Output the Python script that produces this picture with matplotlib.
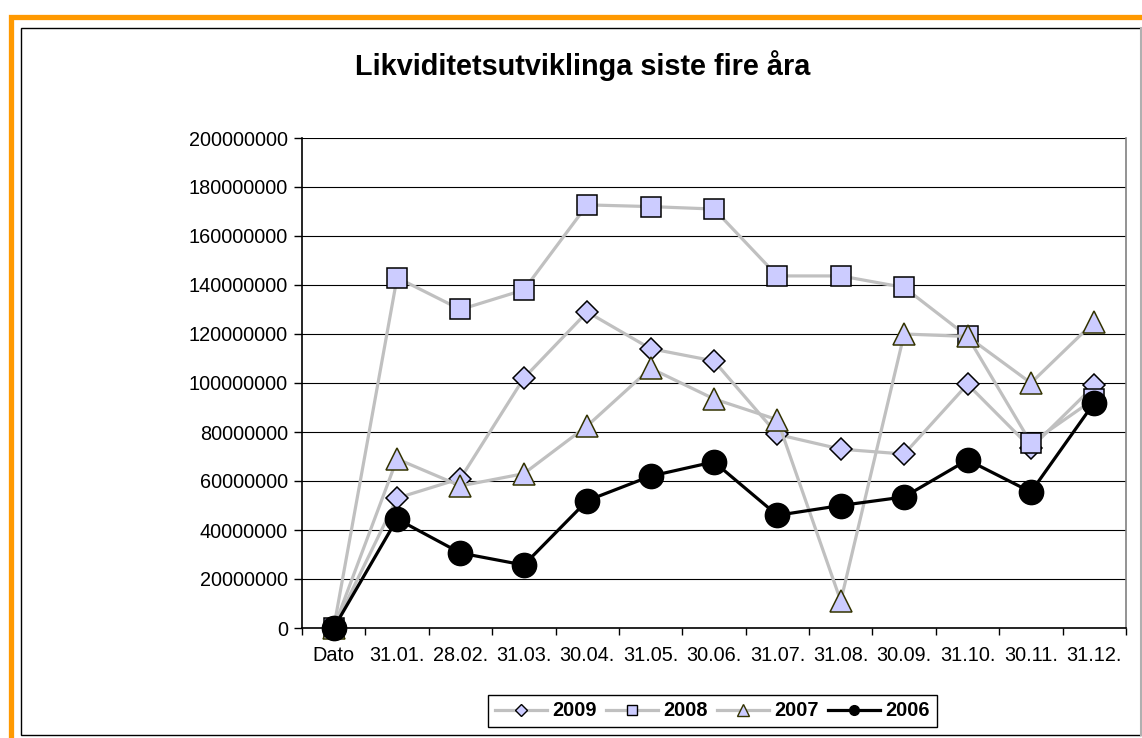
import matplotlib
matplotlib.use("Agg")
import matplotlib.pyplot as plt
from matplotlib.lines import Line2D
from matplotlib.patches import Rectangle
from matplotlib.ticker import FuncFormatter, MultipleLocator, FixedLocator

plt.rcParams['font.family'] = ['Liberation Sans', 'DejaVu Sans']

categories = ["Dato", "31.01.", "28.02.", "31.03.", "30.04.", "31.05.", "30.06.",
              "31.07.", "31.08.", "30.09.", "31.10.", "30.11.", "31.12."]
s2009 = [0, 53e6, 61e6, 102e6, 129e6, 114e6, 109e6, 79e6, 73e6, 71e6, 99.5e6, 73.5e6, 99e6]
s2008 = [0, 143e6, 130e6, 138e6, 172.7e6, 172e6, 171e6, 143.7e6, 143.7e6, 139e6, 119e6, 75.5e6, 93.5e6]
s2007 = [0, 69e6, 58e6, 63e6, 82.5e6, 106e6, 93.5e6, 85e6, 11e6, 120e6, 119e6, 100e6, 125e6]
s2006 = [0, 44.5e6, 30.6e6, 25.7e6, 52e6, 62e6, 67.8e6, 46e6, 50e6, 53.5e6, 68.6e6, 55.5e6, 92e6]
series_names = ["2009", "2008", "2007", "2006"]

W, H = 1142, 738
fig = plt.figure(figsize=(W / 100, H / 100), dpi=100)

# frames
fig.patches.append(Rectangle((10.5 / W, -0.1), 2.0, (H - 16.5) / H + 0.1, transform=fig.transFigure,
                             fill=False, edgecolor='#FF9900', linewidth=3.8, zorder=0))
fig.patches.append(Rectangle((21.5 / W, (H - 734.5) / H), (1141 - 21.5) / W, (734.5 - 27.5) / H,
                             transform=fig.transFigure, fill=False, edgecolor='#000000',
                             linewidth=1.0, zorder=1))
fig.add_artist(Line2D([1140.5 / W, 1140.5 / W], [(H - 734.5) / H, (H - 27.5) / H],
                      transform=fig.transFigure, color='#B0B0B0', linewidth=1.5, zorder=2))

ax = fig.add_axes([302 / W, (H - 628) / H, (1126 - 302) / W, (628 - 138) / H])
x = list(range(len(categories)))

grey = '#C0C0C0'
face = '#CCCCFF'
lw = 2.3
ax.plot(x, s2009, color=grey, lw=lw, marker='D', ms=10.8, mfc=face, mec='black', mew=1.1, zorder=3, clip_on=False)
ax.plot(x, s2008, color=grey, lw=lw, marker='s', ms=14.5, mfc=face, mec='black', mew=1.1, zorder=4, clip_on=False)
ax.plot(x, s2007, color=grey, lw=lw, marker='^', ms=16.5, mfc=face, mec='#333300', mew=1.1, zorder=5, clip_on=False)
ax.plot(x, s2006, color='black', lw=lw, marker='o', ms=17.5, mfc='black', mec='black', mew=1.0, zorder=6, clip_on=False)

ax.set_xlim(-0.5, len(categories) - 0.5)
ax.set_ylim(0, 200e6)
ax.yaxis.set_major_locator(MultipleLocator(20e6))
ax.yaxis.set_major_formatter(FuncFormatter(lambda v, p: f"{int(round(v))}"))
ax.grid(axis='y', color='black', linewidth=0.8, zorder=1)
ax.set_axisbelow(True)

ax.set_xticks(x)
ax.set_xticklabels(categories)
ax.xaxis.set_minor_locator(FixedLocator([i - 0.5 for i in range(len(categories) + 1)]))
ax.tick_params(axis='x', which='major', length=0, pad=13, labelsize=14.3)
ax.tick_params(axis='x', which='minor', length=5, width=1, direction='out', color='black')
ax.tick_params(axis='y', which='major', length=6, width=1, direction='out', pad=4, labelsize=14.3)

for s in ['left', 'bottom']:
    ax.spines[s].set_color('black')
    ax.spines[s].set_linewidth(1.2)
ax.spines['top'].set_visible(False)
ax.spines['right'].set_color('#808080')
ax.spines['right'].set_linewidth(1.2)

fig.text(583 / W, (H - 66) / H, "Likviditetsutviklinga siste fire åra", ha='center', va='center',
         fontsize=20.8, fontweight='bold')

handles = [
    Line2D([], [], color=grey, lw=lw, marker='D', ms=6.5, mfc=face, mec='black', mew=1.0),
    Line2D([], [], color=grey, lw=lw, marker='s', ms=7.5, mfc=face, mec='black', mew=1.0),
    Line2D([], [], color=grey, lw=lw, marker='^', ms=9, mfc=face, mec='#333300', mew=1.0),
    Line2D([], [], color='black', lw=lw, marker='o', ms=7, mfc='black', mec='black'),
]
leg = fig.legend(handles, series_names, loc='center', bbox_to_anchor=(712.5 / W, (H - 711) / H),
                 ncol=4, frameon=True, fancybox=False, framealpha=1, edgecolor='black',
                 prop={'weight': 'bold', 'size': 14.3}, handlelength=2.6, handletextpad=0.3,
                 columnspacing=0.45, borderpad=0.35, borderaxespad=0)
leg.get_frame().set_linewidth(1.0)

fig.savefig("out.png", dpi=100)
